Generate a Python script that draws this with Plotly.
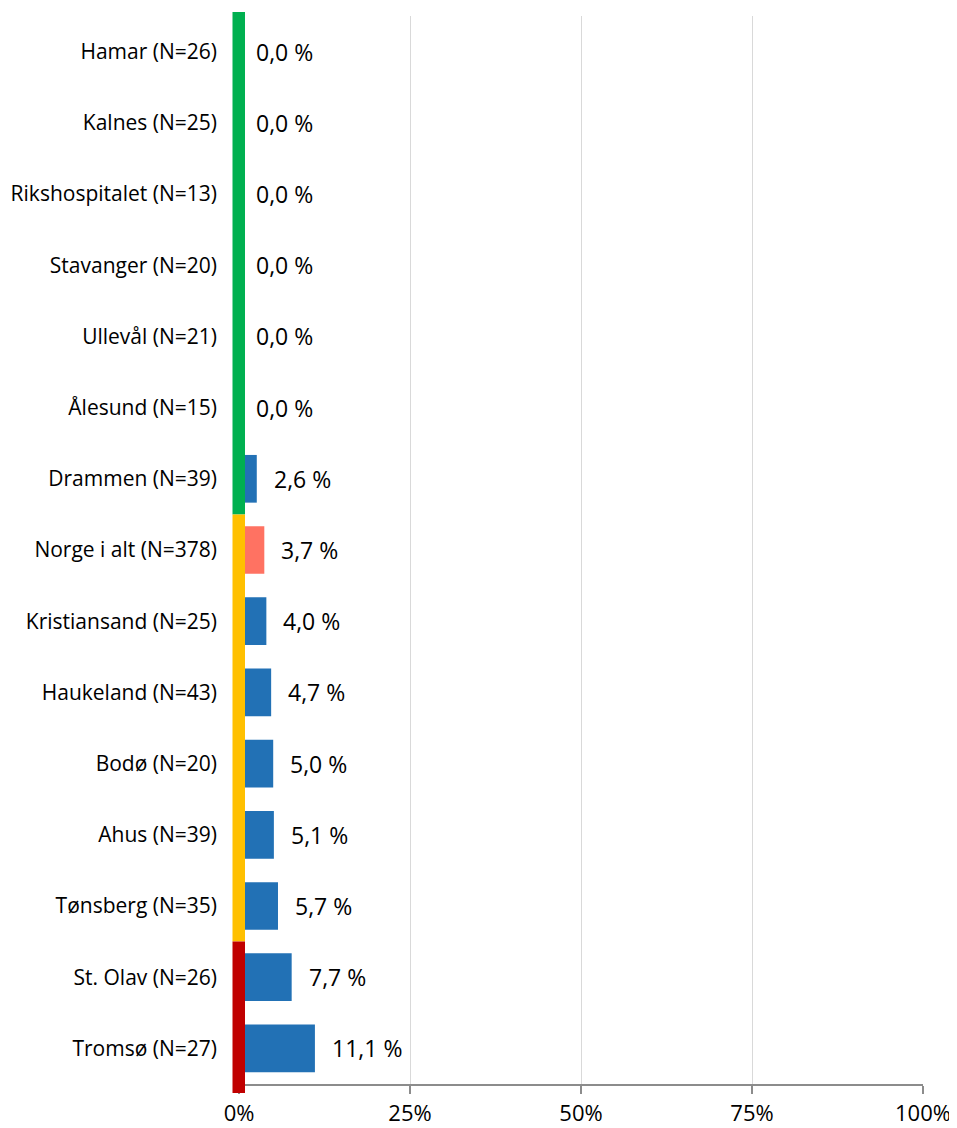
import plotly.graph_objects as go

categories = ["Hamar (N=26)", "Kalnes (N=25)", "Rikshospitalet (N=13)", "Stavanger (N=20)",
              "Ullevål (N=21)", "Ålesund (N=15)", "Drammen (N=39)", "Norge i alt (N=378)",
              "Kristiansand (N=25)", "Haukeland (N=43)", "Bodø (N=20)", "Ahus (N=39)",
              "Tønsberg (N=35)", "St. Olav (N=26)", "Tromsø (N=27)"]
values = [0.0, 0.0, 0.0, 0.0, 0.0, 0.0, 2.6, 3.7, 4.0, 4.7, 5.0, 5.1, 5.7, 7.7, 11.1]
highlight = "Norge i alt (N=378)"
# colour bands on the left edge: (number of rows, colour)
bands = [(7, "#00B050"), (6, "#FFC000"), (2, "#C00000")]
x_ticks = [0, 25, 50, 75, 100]
x_tick_labels = ["0%", "25%", "50%", "75%", "100%"]

BLUE = "#2271B5"
SALMON = "#FF7262"
FONT = "Open Sans"

colors = [SALMON if c == highlight else BLUE for c in categories]

# page body has an 8px margin; compensate so the figure fills the window
W, H = 957 - 8, 1128 - 8
ML, MR, MT, MB = 231, 34, 8, 44
plot_w = W - ML - MR
plot_h = H - MT - MB

fig = go.Figure()
fig.add_trace(go.Bar(
    y=categories, x=values, orientation="h",
    marker=dict(color=colors, line=dict(width=0)),
    width=0.67, hoverinfo="skip",
))

for c, v in zip(categories, values):
    fig.add_annotation(x=v, y=c, xref="x", yref="y",
                       text=f"{v:.1f} %".replace(".", ","),
                       showarrow=False, xanchor="left", xshift=15,
                       font=dict(family=FONT, size=23, color="black"))

# coloured strip
n = len(categories)
start = 0
for count, col in bands:
    top = 1 - start / n
    bot = 1 - (start + count) / n
    if start == 0:
        top += 4 / plot_h
    if start + count == n:
        bot -= 9 / plot_h
    fig.add_shape(type="rect", xref="paper", yref="paper",
                  x0=-6.5 / plot_w, x1=6 / plot_w, y0=bot, y1=top,
                  fillcolor=col, line=dict(width=0), layer="above")
    start += count

fig.update_layout(
    width=W, height=H,
    margin=dict(l=ML, r=MR, t=MT, b=MB, autoexpand=False),
    plot_bgcolor="white", paper_bgcolor="white",
    showlegend=False, bargap=0.33,
    font=dict(family=FONT, size=21, color="black"),
)
fig.update_xaxes(range=[0, 100], tickvals=x_ticks, ticktext=x_tick_labels,
                 showgrid=True, gridcolor="#D9D9D9", gridwidth=1,
                 showline=True, linecolor="#8C8C8C", linewidth=1.5,
                 ticks="outside", ticklen=8, tickcolor="#8C8C8C", tickwidth=1.5,
                 ticklabelstandoff=1,
                 zeroline=False, fixedrange=True,
                 tickfont=dict(family=FONT, size=22, color="black"))
fig.update_yaxes(categoryorder="array", categoryarray=categories,
                 autorange=False, range=[n - 0.5, -0.5],
                 showgrid=False, showline=False, zeroline=False, ticks="",
                 ticklabelstandoff=21,
                 tickfont=dict(family=FONT, size=21, color="black"))

fig.write_html("out.html")
